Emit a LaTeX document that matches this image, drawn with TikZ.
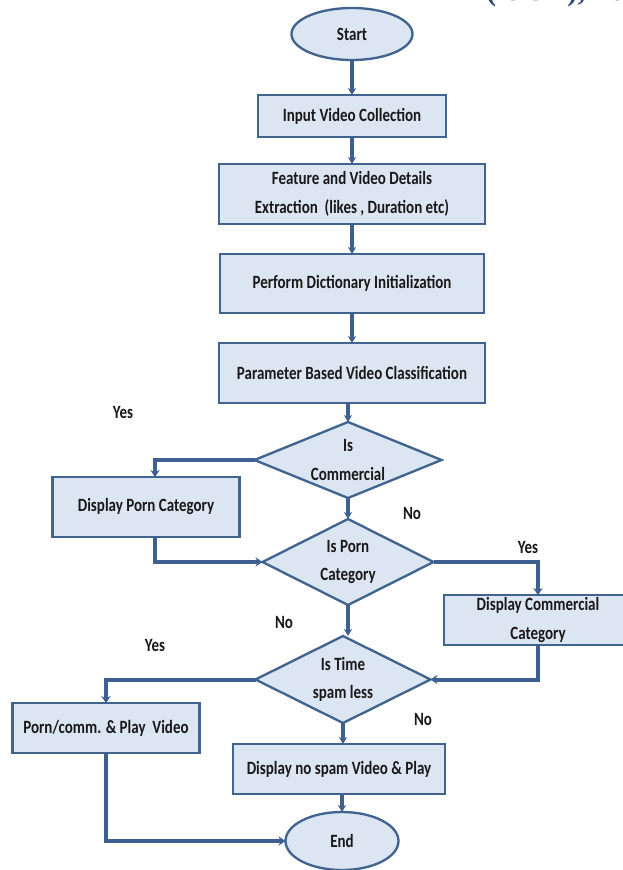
\documentclass[tikz,border=0pt]{standalone}
\usepackage{fontspec}
\usepackage{tikz}
\usetikzlibrary{shapes.geometric, arrows.meta, positioning}
\newfontfamily\flowfont[FakeStretch=0.8]{Carlito}
\newfontfamily\headfont{Liberation Serif}
\definecolor{boxfill}{HTML}{DCE6F2}
\definecolor{boxline}{HTML}{41648F}
\definecolor{linkblue}{HTML}{3D6090}
\definecolor{headblue}{HTML}{2E4A7D}
\newcommand{\pxl}{0.3mm}
\newcommand{\flowsize}{\fontsize{16pt}{24.5pt}\selectfont}
\tikzset{
    startstop/.style={ellipse, draw=boxline, line width=2pt, fill=boxfill, text=black!90, inner sep=0pt, outer sep=0pt, font=\flowfont\bfseries\flowsize},
    process/.style={rectangle, draw=boxline, line width=2pt, fill=boxfill, text=black!90, align=center, inner sep=0pt, outer sep=0pt, font=\flowfont\bfseries\flowsize},
    decision/.style={diamond, draw=boxline, line width=2pt, fill=boxfill, text=black!90, align=center, inner sep=0pt, outer sep=0pt, font=\flowfont\bfseries\flowsize},
    answer/.style={text=black!90, inner sep=0pt, font=\flowfont\bfseries\flowsize},
    arrow/.style={draw=linkblue, line width=2.6pt, ->, >={Stealth[length=6pt,width=7pt]}},
    branch/.style={draw=linkblue, line width=3.4pt, ->, >={Stealth[length=6pt,width=8pt]}},
}
\begin{document}
\begin{tikzpicture}[x=\pxl, y=-\pxl]
  \fill[white] (0,0) rectangle (623,870);
  \useasboundingbox (0,0) rectangle (623,870);
  \node[anchor=base west, inner sep=0pt, text=headblue, font=\headfont\bfseries\fontsize{26pt}{30pt}\selectfont] (head) at (486,0) {(IJCR), Fu};

  % main column
  \node[startstop, minimum width=121*\pxl, minimum height=52*\pxl] (start) at (352,34) {Start};
  \node[process, minimum width=188*\pxl, minimum height=42*\pxl, below=35*\pxl of start] (input) {Input Video Collection};
  \node[process, minimum width=266*\pxl, minimum height=60*\pxl, below=27*\pxl of input] (feature) {Feature and Video Details\\Extraction\ \ (likes , Duration etc)};
  \node[process, minimum width=264*\pxl, minimum height=59*\pxl, below=30*\pxl of feature] (dict) {Perform Dictionary Initialization};
  \node[process, minimum width=266*\pxl, minimum height=60*\pxl, below=30*\pxl of dict] (param) {Parameter Based Video Classification};
  \node[decision, aspect=2.46, minimum width=187*\pxl, minimum height=76*\pxl, below=19*\pxl of param, xshift=-4*\pxl] (iscomm) {Is\\Commercial};
  \node[decision, aspect=2, minimum width=171*\pxl, minimum height=86*\pxl, below=21*\pxl of iscomm] (isporn) {Is Porn\\Category};
  \node[decision, aspect=2, minimum width=175*\pxl, minimum height=87*\pxl, below=31*\pxl of isporn, xshift=-5*\pxl] (istime) {Is Time\\spam less};
  \node[process, minimum width=212*\pxl, minimum height=50*\pxl, below=21*\pxl of istime, xshift=-4*\pxl] (nospam) {Display no spam Video \& Play};
  \node[startstop, minimum width=113*\pxl, minimum height=58*\pxl, below=18*\pxl of nospam, xshift=3*\pxl] (end) {End};

  % side boxes
  \node[process, minimum width=187*\pxl, minimum height=60*\pxl] (pornbox) at (146,507) {Display Porn Category};
  \node[process, minimum width=188*\pxl, minimum height=50*\pxl] (commbox) at (538,620) {Display Commercial\\Category};
  \node[process, minimum width=187*\pxl, minimum height=50*\pxl] (playbox) at (106,728) {Porn/comm. \& Play\ \ Video};

  % answers
  \node[answer] (yes1) at (123,412) {Yes};
  \node[answer] (no1) at (412,513) {No};
  \node[answer] (yes2) at (528,547) {Yes};
  \node[answer] (no2) at (284,622) {No};
  \node[answer] (yes3) at (155,645) {Yes};
  \node[answer] (no3) at (423,719) {No};

  \path[arrow] (start) -- (input);
  \path[arrow] (input) -- (feature);
  \path[arrow] (feature) -- (dict);
  \path[arrow] (dict) -- (param);
  \path[arrow] (param.south -| iscomm.north) -- (iscomm.north);
  \path[arrow] (iscomm) -- (isporn);
  \path[arrow] (isporn.south) -- (isporn.south |- istime.north);
  \path[arrow] (istime) -- (istime.south |- nospam.north);
  \path[arrow] (nospam.south -| end.north) -- (end);
  \path[branch] (iscomm.west) -| ([xshift=9*\pxl]pornbox.north);
  \path[branch] ([xshift=9*\pxl]pornbox.south) |- (isporn.west);
  \path[branch] (isporn.east) -| (commbox.north);
  \path[branch] (commbox.south) |- (istime.east);
  \path[branch] (istime.west) -| (playbox.north);
  \path[branch] (playbox.south) |- (end.west);
\end{tikzpicture}
\end{document}
